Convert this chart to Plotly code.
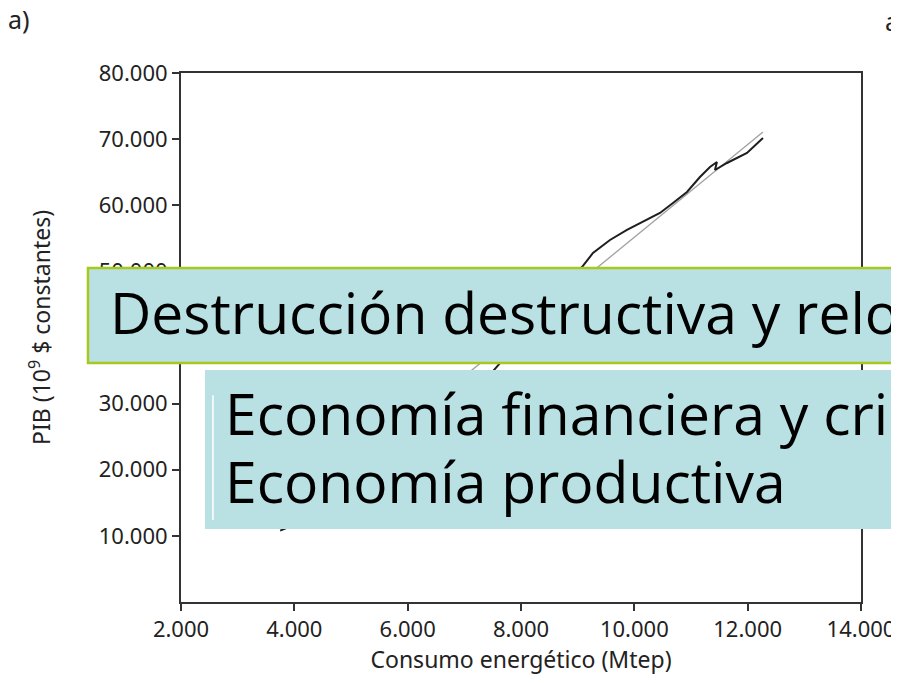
import plotly.graph_objects as go


# ---------------- Data ----------------
consumo = [3750, 4100, 4500, 5000, 5400, 5800, 6200, 6600, 6900, 7250,
           7576, 7900, 8250, 8600, 8850, 9076, 9270, 9570, 9870, 10223,
           10452, 10682, 10929, 11158, 11335, 11458, 11423, 11635, 11988, 12270]
pib = [10800, 12000, 13500, 15500, 17300, 19500, 22000, 25500, 29000, 32500,
       35600, 38800, 42300, 46000, 48500, 50660, 52780, 54750, 56260, 57770,
       58830, 60340, 62000, 64270, 65780, 66540, 65330, 66390, 67900, 70170]

ajuste_x = [3750, 12270]
ajuste_y = [11340, 71080]

x_ticks = [2000, 4000, 6000, 8000, 10000, 12000, 14000]
x_labels = ["2.000", "4.000", "6.000", "8.000", "10.000", "12.000", "14.000"]
y_ticks = [10000, 20000, 30000, 40000, 50000, 60000, 70000, 80000]
y_labels = ["10.000", "20.000", "30.000", "40.000", "50.000", "60.000", "70.000", "80.000"]

titulo = "Destrucción destructiva y relocalización"
linea_1 = "Economía financiera y crisis"
linea_2 = "Economía productiva"

axis_font = dict(family="Noto Sans", size=22, color="#222")
title_font = dict(family="Noto Sans", size=23, color="#222")
box_font = dict(family="Open Sans", size=57, color="#000")

fig = go.Figure()

fig.add_trace(go.Scatter(
    x=ajuste_x, y=ajuste_y, mode="lines",
    line=dict(color="#a0a0a0", width=1.3)
))
fig.add_trace(go.Scatter(
    x=consumo, y=pib, mode="lines",
    line=dict(color="#1e1e1e", width=2)
))

axis_common = dict(
    ticks="outside", ticklen=7, tickwidth=1.5, tickcolor="#333",
    showline=True, linecolor="#333", linewidth=2, mirror=True,
    showgrid=False, zeroline=False, tickfont=axis_font, automargin=False
)

fig.update_xaxes(
    range=[2000, 14000], tickvals=x_ticks, ticktext=x_labels,
    title=dict(text="Consumo energético (Mtep)", font=title_font, standoff=6),
    **axis_common
)
fig.update_yaxes(
    range=[0, 80000], tickvals=y_ticks, ticktext=y_labels,
    **axis_common
)

# y title sits a bit above the axis centre, so it is placed by hand
fig.add_annotation(text="PIB (10<sup>9</sup> $ constantes)", xref="paper", yref="paper",
                   x=-0.2074, y=0.52, xanchor="center", yanchor="middle",
                   textangle=-90, showarrow=False, font=title_font)

# ---------------- Overlay boxes ----------------
fig.add_shape(type="rect", xref="paper", yref="paper",
              x0=-0.1368, x1=1.08, y0=0.4518, y1=0.6314,
              fillcolor="#b9e0e3", line=dict(color="#a8c81e", width=2.5),
              layer="above")
fig.add_shape(type="rect", xref="paper", yref="paper",
              x0=0.0353, x1=1.08, y0=0.138, y1=0.4386,
              fillcolor="#b9e0e3", line=dict(width=0),
              layer="above")
fig.add_shape(type="line", xref="paper", yref="paper",
              x0=0.047, x1=0.047, y0=0.155, y1=0.391,
              line=dict(color="#ffffff", width=1.5), layer="above")

fig.add_annotation(text=titulo, xref="paper", yref="paper",
                   x=-0.1074, y=0.548, xanchor="left", yanchor="middle",
                   showarrow=False, font=box_font)
fig.add_annotation(text=linea_1, xref="paper", yref="paper",
                   x=0.062, y=0.357, xanchor="left", yanchor="middle",
                   showarrow=False, font=box_font)
fig.add_annotation(text=linea_2, xref="paper", yref="paper",
                   x=0.062, y=0.229, xanchor="left", yanchor="middle",
                   showarrow=False, font=box_font)

fig.add_annotation(text="a)", xref="paper", yref="paper",
                   x=-0.2574, y=1.102, xanchor="left", yanchor="middle",
                   showarrow=False, font=dict(family="Noto Sans", size=25, color="#222"))
fig.add_annotation(text="a)", xref="paper", yref="paper",
                   x=1.0318, y=1.098, xanchor="left", yanchor="middle",
                   showarrow=False, font=dict(family="Noto Sans", size=25, color="#222"))

fig.update_layout(
    width=891, height=667,
    margin=dict(l=173, r=38, t=65, b=73),
    paper_bgcolor="white", plot_bgcolor="white",
    showlegend=False
)

fig.write_html("out.html")
